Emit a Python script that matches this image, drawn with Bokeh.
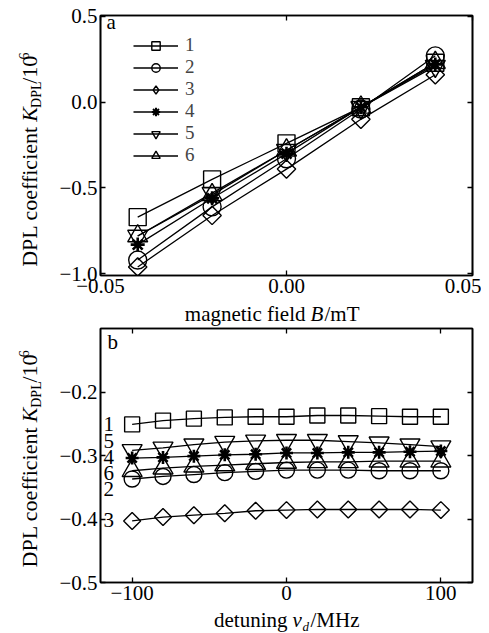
import math
from bokeh.plotting import figure
from bokeh.layouts import column, row
from bokeh.models import (Range1d, LinearAxis, FixedTicker, Label, Legend, LegendItem,
                          CustomJSTickFormatter, ColumnDataSource)
from bokeh.core.properties import value
from bokeh.embed import file_html
from bokeh.resources import INLINE

FONT = "Liberation Serif"
TICK_FS = "21px"

# ---------------- panel a : DPL coefficient vs magnetic field ----------------
field_mT = [-0.04, -0.02, 0.0, 0.02, 0.04]
k_field_1 = [-0.67, -0.45, -0.24, -0.03, 0.23]
k_field_2 = [-0.92, -0.61, -0.33, -0.04, 0.27]
k_field_3 = [-0.96, -0.66, -0.39, -0.10, 0.16]
k_field_4 = [-0.83, -0.56, -0.30, -0.03, 0.22]
k_field_5 = [-0.78, -0.53, -0.28, -0.03, 0.21]
k_field_6 = [-0.78, -0.54, -0.28, -0.03, 0.23]
field_xticks = [-0.05, 0.0, 0.05]
field_yticks = [-1.0, -0.5, 0.0, 0.5]

# ---------------- panel b : DPL coefficient vs detuning ----------------
detuning_MHz = [-100, -80, -60, -40, -20, 0, 20, 40, 60, 80, 100]
k_det_1 = [-0.251, -0.245, -0.242, -0.240, -0.239, -0.239, -0.237, -0.237, -0.238, -0.239, -0.239]
k_det_2 = [-0.337, -0.333, -0.330, -0.327, -0.325, -0.323, -0.323, -0.323, -0.324, -0.324, -0.324]
k_det_3 = [-0.403, -0.397, -0.394, -0.391, -0.387, -0.386, -0.385, -0.385, -0.385, -0.385, -0.386]
k_det_4 = [-0.304, -0.303, -0.301, -0.299, -0.298, -0.296, -0.296, -0.295, -0.295, -0.294, -0.293]
k_det_5 = [-0.292, -0.288, -0.283, -0.279, -0.277, -0.276, -0.276, -0.278, -0.280, -0.283, -0.286]
k_det_6 = [-0.324, -0.320, -0.317, -0.315, -0.313, -0.311, -0.310, -0.310, -0.309, -0.309, -0.309]
det_xticks = [-100, 0, 100]
det_yticks = [-0.5, -0.4, -0.3, -0.2]

curve_names = ["1", "2", "3", "4", "5", "6"]
# curve numbers written beside the first points of panel b
curve_label_text = ["1", "5", "4", "6", "2", "3"]
curve_label_y = [-0.251, -0.277, -0.302, -0.327, -0.352, -0.401]
curve_label_x = [-118.5] * 6

field_series = [k_field_1, k_field_2, k_field_3, k_field_4, k_field_5, k_field_6]
det_series = [k_det_1, k_det_2, k_det_3, k_det_4, k_det_5, k_det_6]

MARK = {
    "1": dict(marker="square", sa=17, sb=15, angle=0.0, lw=1.4, leg="square"),
    "2": dict(marker="circle", sa=18, sb=16, angle=0.0, lw=1.4, leg="circle"),
    "3": dict(marker="square", sa=13, sb=12, angle=math.pi / 4, lw=1.4, leg="diamond"),
    "4": dict(marker="asterisk", sa=14, sb=13, angle=0.0, lw=2.6, leg="asterisk"),
    "5": dict(marker="inverted_triangle", sa=20, sb=20, angle=0.0, lw=1.4, leg="inverted_triangle"),
    "6": dict(marker="triangle", sa=20, sb=20, angle=0.0, lw=1.4, leg="triangle"),
}

FRAME_W = 372
YLAB_W = 50       # width of the y-title strip
LEFT = 50         # left border of each chart (tick labels)
BOT = 26          # bottom border of each chart (tick labels)


def base_off(size):
    # offset between the label anchor and the drawn baseline
    return 0.345 * size


def fmt(decimals):
    return CustomJSTickFormatter(code="""
        const s = Math.abs(tick).toFixed(%d);
        return (tick < -1e-12 ? "\\u2212" : "") + s;
    """ % decimals)


def style_axis(ax, ticks, formatter=None, labels=True):
    ax.ticker = FixedTicker(ticks=ticks)
    ax.axis_line_color = "black"
    ax.axis_line_width = 1.6
    ax.major_tick_line_color = "black"
    ax.major_tick_line_width = 1.3
    ax.major_tick_in = 5
    ax.major_tick_out = 0
    ax.minor_tick_in = 0
    ax.minor_tick_out = 0
    ax.minor_tick_line_color = None
    if labels:
        ax.formatter = formatter
        ax.major_label_text_font = FONT
        ax.major_label_text_font_size = TICK_FS
        ax.major_label_text_color = "black"
        ax.major_label_standoff = 3
    else:
        ax.formatter = CustomJSTickFormatter(code="return '';")
        ax.major_label_text_font_size = "1px"
        ax.major_label_standoff = 0


def make_fig(xr, yr, xt, yt, xdec, ydec, top, fh):
    p = figure(frame_width=FRAME_W, frame_height=fh, x_range=Range1d(*xr),
               y_range=Range1d(*yr), output_backend="svg", toolbar_location=None,
               min_border_left=LEFT, min_border_right=9, min_border_top=top,
               min_border_bottom=BOT)
    p.xgrid.visible = False
    p.ygrid.visible = False
    p.outline_line_color = "black"
    p.outline_line_width = 1.6
    p.background_fill_color = "white"
    p.border_fill_color = "white"
    style_axis(p.xaxis[0], xt, fmt(xdec))
    style_axis(p.yaxis[0], yt, fmt(ydec))
    ra = LinearAxis()
    style_axis(ra, yt, labels=False)
    p.add_layout(ra, "right")
    ta = LinearAxis()
    style_axis(ta, xt, labels=False)
    p.add_layout(ta, "above")
    return p


def strip(w, h):
    s = figure(width=w, height=h, x_range=Range1d(0, w), y_range=Range1d(0, h),
               output_backend="svg", toolbar_location=None, x_axis_location=None,
               y_axis_location=None, min_border=0, title=None)
    s.xgrid.visible = False
    s.ygrid.visible = False
    s.outline_line_color = None
    s.background_fill_color = "white"
    s.border_fill_color = "white"
    return s


def piece(p, text, x, y, size=22, style="normal", angle=0.0, align="left"):
    p.add_layout(Label(x=x, y=y, text=text, text_font=FONT, text_font_size=f"{size}px",
                       text_font_style=style, text_align=align, text_baseline="alphabetic",
                       angle=angle, text_color="black"))


def ylabel_strip(h):
    s = strip(YLAB_W, h)
    a = math.pi / 2
    xb = 37
    yk = BOT + 152
    piece(s, "DPL coefficient", xb - base_off(22), yk - 5, angle=a, align="right")
    piece(s, "K", xb - base_off(22), yk, style="italic", angle=a)
    piece(s, "DPL", xb + 4 - base_off(14), yk + 16, size=14, angle=a)
    piece(s, "/10", xb - base_off(22), yk + 44, angle=a)
    piece(s, "6", xb - 9 - base_off(14), yk + 72, size=14, angle=a)
    return s


# ---------------- figure a ----------------
TOP_A, FH_A = 15, 260
p1 = make_fig((-0.05, 0.05), (-1.01, 0.505), field_xticks, field_yticks, 2, 1, TOP_A, FH_A)
items = []
for name, ys in zip(curve_names, field_series):
    m = MARK[name]
    src = ColumnDataSource(dict(x=field_mT, y=ys))
    r_line = p1.line("x", "y", source=src, line_color="black", line_width=1.3)
    p1.scatter("x", "y", source=src, marker=m["marker"], size=m["sa"], angle=m["angle"],
               line_color="black", line_width=m["lw"], fill_color=None)
    # marker drawn only in the key (no visible point)
    key_src = ColumnDataSource(dict(x=[math.nan], y=[math.nan]))
    r_key = p1.scatter("x", "y", source=key_src, marker=m["leg"], size=8, line_color="black",
                       line_width=min(m["lw"], 2.0), fill_color=None)
    items.append(LegendItem(label=name, renderers=[r_line, r_key]))
leg = Legend(items=items, location=(33, 109), glyph_width=45, glyph_height=21,
             label_text_font=FONT, label_text_font_size="19px", label_standoff=7,
             spacing=0, padding=0, margin=0,
             border_line_color=None, background_fill_alpha=0.0, label_height=21)
p1.add_layout(leg, "center")
p1.add_layout(Label(x=6, y=FH_A - 18, x_units="screen", y_units="screen", text="a",
                    text_font=FONT, text_font_size="21px", text_color="black"))
H1 = TOP_A + FH_A + BOT
ya = ylabel_strip(H1)
xa = strip(481, 25)
xy = 5 + base_off(21)
piece(xa, "magnetic field", 305, xy, align="right", size=21)
piece(xa, "B", 310, xy, style="italic", size=21)
piece(xa, "/mT", 324, xy, size=21)

# ---------------- figure b ----------------
TOP_B, FH_B = 2, 254
p2 = make_fig((-120.5, 120.5), (-0.5, -0.1), det_xticks, det_yticks, 0, 1, TOP_B, FH_B)
for name, ys in zip(curve_names, det_series):
    m = MARK[name]
    src = ColumnDataSource(dict(x=detuning_MHz, y=ys))
    p2.line("x", "y", source=src, line_color="black", line_width=1.3)
    p2.scatter("x", "y", source=src, marker=m["marker"], size=m["sb"], angle=m["angle"],
               line_color="black", line_width=m["lw"], fill_color=None)
lab_src = ColumnDataSource(dict(x=curve_label_x, y=curve_label_y, t=curve_label_text))
p2.text("x", "y", text="t", source=lab_src, text_font=value(FONT), text_font_size="21px",
        text_align="left", text_baseline="middle", text_color="black")
p2.add_layout(Label(x=7, y=FH_B - 25, x_units="screen", y_units="screen", text="b",
                    text_font=FONT, text_font_size="21px", text_color="black"))
H2 = TOP_B + FH_B + BOT
yb = ylabel_strip(H2)
xb_ = strip(481, 25)
by = 6 + base_off(21)
piece(xb_, "detuning", 287, by, align="right", size=21)
piece(xb_, "\u03bd", 292, by, style="italic", size=21)
piece(xb_, "d", 302, 3 + base_off(13), size=13, style="italic")
piece(xb_, "/MHz", 310, by, size=21)

layout = column(row(ya, p1, spacing=0), xa, row(yb, p2, spacing=0), xb_, spacing=0)
open("out.html", "w").write(file_html(layout, INLINE))
